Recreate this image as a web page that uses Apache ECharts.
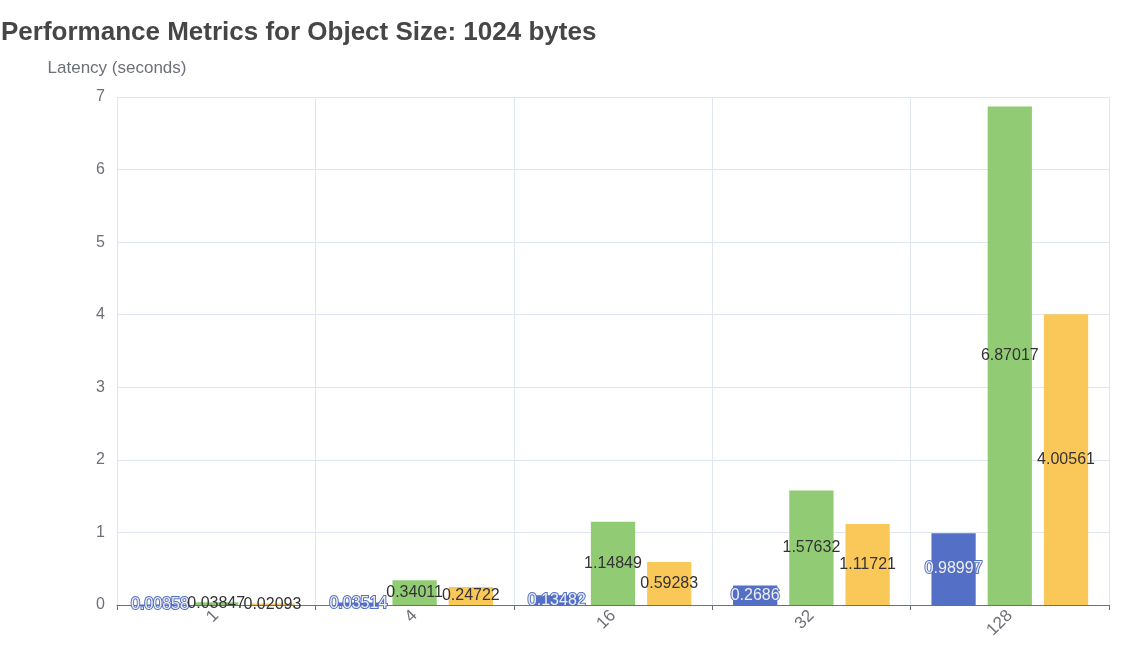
<!DOCTYPE html>
<html>
<head>
<meta charset="utf-8">
<script src="https://cdn.jsdelivr.net/npm/echarts@6/dist/echarts.min.js"></script>
<style>
  html, body { margin: 0; padding: 0; background: #fff; }
  #main { width: 1134px; height: 664px; }
</style>
</head>
<body>
<div id="main"></div>
<script>
// concurrency levels (x axis)
var categories = ['1', '4', '16', '32', '128'];

// latency values in seconds
var minLatency = [0.00858, 0.03514, 0.13482, 0.2686, 0.98997];
var maxLatency = [0.03847, 0.34011, 1.14849, 1.57632, 6.87017];
var avgLatency = [0.02093, 0.24722, 0.59283, 1.11721, 4.00561];

var chart = echarts.init(document.getElementById('main'));

function barSeries(name, data) {
  return {
    name: name,
    type: 'bar',
    data: data,
    barGap: '27%',
    barCategoryGap: '21%',
    label: {
      show: true,
      position: 'inside',
      fontSize: 16
    }
  };
}

var option = {
  color: ['#5470c6', '#91cc75', '#fac858'],
  textStyle: { fontFamily: 'sans-serif' },
  title: {
    text: 'Performance Metrics for Object Size: 1024 bytes',
    left: -4,
    top: 15,
    textStyle: { fontSize: 26, fontWeight: 'bold', color: '#464646' }
  },
  grid: { left: 117, right: 25, top: 97, bottom: 59 },
  xAxis: {
    type: 'category',
    data: categories,
    axisLine: { lineStyle: { color: '#6e7079' } },
    axisTick: { show: true, lineStyle: { color: '#6e7079' } },
    axisLabel: { rotate: 45, fontSize: 17, color: '#6e7079' },
    splitLine: { show: true, lineStyle: { color: '#e0e6f1' } }
  },
  yAxis: {
    type: 'value',
    name: 'Latency (seconds)',
    nameGap: 20,
    nameTextStyle: { fontSize: 17, color: '#6e7079' },
    min: 0,
    max: 7,
    interval: 1,
    axisLabel: { fontSize: 16, color: '#6e7079', margin: 12 },
    splitLine: { lineStyle: { color: '#e0e6f1' } }
  },
  series: [
    barSeries('Min Latency', minLatency),
    barSeries('Max Latency', maxLatency),
    barSeries('Avg Latency', avgLatency)
  ]
};

chart.setOption(option);
</script>
</body>
</html>
